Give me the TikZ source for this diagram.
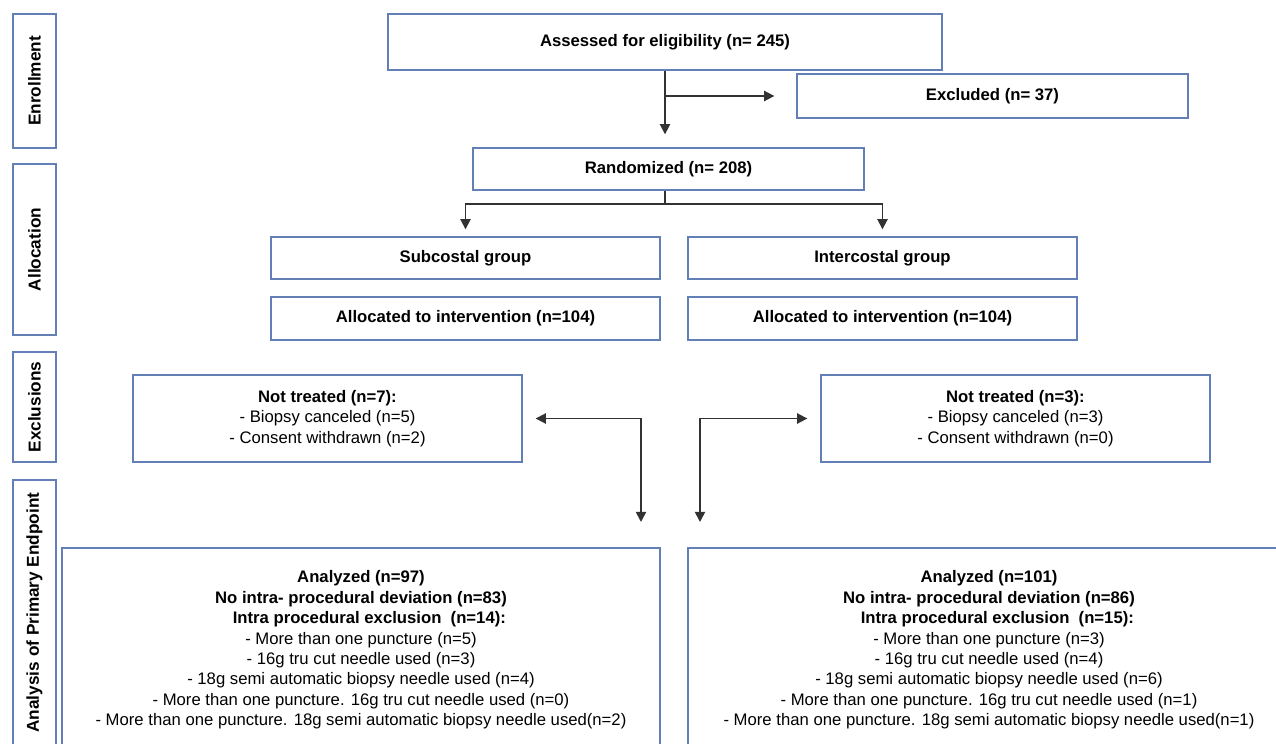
\documentclass[tikz,border=0pt]{standalone}
\usepackage{fontspec}
\setmainfont{Liberation Sans}
\usetikzlibrary{arrows.meta}
\definecolor{boxedge}{RGB}{98,128,182}
\definecolor{arrgray}{RGB}{50,50,50}
\begin{document}
\begin{tikzpicture}[x=0.02cm, y=-0.02cm,
  box/.style={draw=boxedge, line width=0.8pt, fill=white, inner sep=0pt, align=center,
    font=\fontsize{9.5}{11.6}\selectfont},
  side/.style={draw=boxedge, line width=0.8pt, rotate=90, inner sep=0pt,
    minimum height=0.86cm, font=\fontsize{9.8}{11.6}\selectfont\bfseries},
  line/.style={draw=arrgray, line width=1pt},
  arr/.style={line, -{Triangle[length=5.8pt,width=5.8pt]}},
  dblarr/.style={line, {Triangle[length=5.8pt,width=5.8pt]}-{Triangle[length=5.8pt,width=5.8pt]}}]
  \useasboundingbox (0,0) rectangle (1276,744);
  \clip (0,0) rectangle (1276,744);
  % Stage labels on the left
  \node[side, minimum width=2.68cm] (enrol) at (34.5,81) {Enrollment};
  \node[side, minimum width=3.42cm] (alloc) at (34.5,249.5) {Allocation};
  \node[side, minimum width=2.2cm] (exclu) at (34.5,407) {Exclusions};
  \node[side, minimum width=5.3cm] (anal) at (34.5,612.5) {Analysis of Primary Endpoint};
  % Enrollment
  \node[box, minimum width=11.08cm, minimum height=1.12cm] (assess) at (665,42)
    {\bfseries Assessed for eligibility (n= 245)};
  \node[box, minimum width=7.82cm, minimum height=0.88cm] (excl) at (992.5,96)
    {\bfseries Excluded (n= 37)};
  \node[box, minimum width=7.82cm, minimum height=0.84cm] (rand) at (668.5,169)
    {\bfseries Randomized (n= 208)};
  % Allocation
  \node[box, minimum width=7.78cm, minimum height=0.84cm] (sub) at (465.5,258)
    {\bfseries Subcostal group};
  \node[box, minimum width=7.78cm, minimum height=0.84cm] (inter) at (882.5,258)
    {\bfseries Intercostal group};
  \node[box, minimum width=7.78cm, minimum height=0.86cm] (subint) at (465.5,318.5)
    {\bfseries Allocated to intervention (n=104)};
  \node[box, minimum width=7.78cm, minimum height=0.86cm] (interint) at (882.5,318.5)
    {\bfseries Allocated to intervention (n=104)};
  % Exclusions
  \node[box, minimum width=7.78cm, minimum height=1.74cm] (subnt) at (327.5,418.5)
    {\textbf{Not treated (n=7):}\\- Biopsy canceled (n=5)\\- Consent withdrawn (n=2)};
  \node[box, minimum width=7.78cm, minimum height=1.74cm] (internt) at (1015.5,418.5)
    {\textbf{Not treated (n=3):}\\- Biopsy canceled (n=3)\\- Consent withdrawn (n=0)};
  % Analysis
  \node[box, minimum width=11.96cm, minimum height=4.08cm] (subana) at (361,650)
    {\textbf{Analyzed (n=97)}\\
     \textbf{No intra- procedural deviation (n=83)}\\
     \textbf{\quad Intra procedural exclusion \ (n=14):}\\
     - More than one puncture (n=5)\\
     - 16g tru cut needle used (n=3)\\
     - 18g semi automatic biopsy needle used (n=4)\\
     - More than one puncture. 16g tru cut needle used (n=0)\\
     - More than one puncture. 18g semi automatic biopsy needle used(n=2)};
  \node[box, minimum width=12.04cm, minimum height=4.08cm] (interana) at (989,650)
    {\textbf{Analyzed (n=101)}\\
     \textbf{No intra- procedural deviation (n=86)}\\
     \textbf{\quad Intra procedural exclusion \ (n=15):}\\
     - More than one puncture (n=3)\\
     - 16g tru cut needle used (n=4)\\
     - 18g semi automatic biopsy needle used (n=6)\\
     - More than one puncture. 16g tru cut needle used (n=1)\\
     - More than one puncture. 18g semi automatic biopsy needle used(n=1)};
  % Connectors
  \coordinate (split) at (665,204);
  \coordinate (subdown) at (641,522);
  \coordinate (interdown) at (700,522);
  \draw[arr, shorten >=0.26cm] (assess.south) -- (assess.south |- rand.north);
  \draw[arr, shorten >=0.44cm] (assess.south |- excl.west) -- (excl.west);
  \draw[line] (split |- rand.south) -- (split);
  \draw[arr, shorten >=0.14cm] (split) -| (sub.north);
  \draw[arr, shorten >=0.14cm] (split) -| (inter.north);
  \draw[dblarr, shorten <=0.26cm] (subnt.east) -| (subdown);
  \draw[dblarr, shorten >=0.26cm] (interdown) |- (internt.west);
\end{tikzpicture}
\end{document}
